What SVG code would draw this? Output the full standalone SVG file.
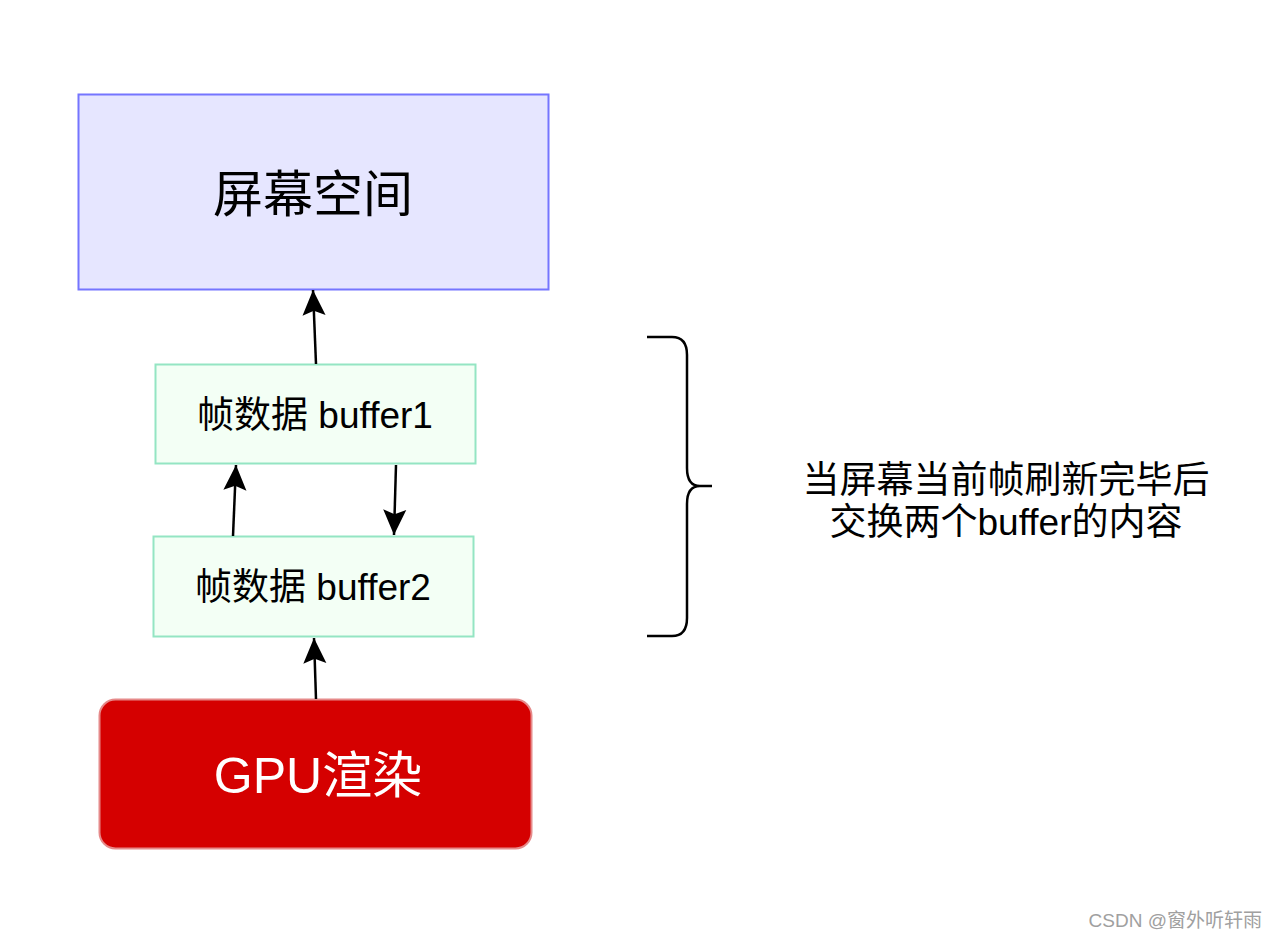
<svg xmlns="http://www.w3.org/2000/svg" width="1276" height="939" viewBox="0 0 1276 939">
  <style>
    .lbl { font-family: "Liberation Sans", "Noto Sans CJK SC", sans-serif; text-anchor: middle; fill: #000000; }
    .buf { fill: #f3fff5; stroke: #94e5c3; stroke-width: 2; }
    .conn { stroke: #000000; stroke-width: 2.5; fill: none; }
  </style>
  <defs>
    <marker id="arrow" markerUnits="userSpaceOnUse" markerWidth="30" markerHeight="30" viewBox="-24 -12 26 24" refX="0" refY="0" orient="auto">
      <path d="M0,0 L-22,-10 L-18,0 L-22,10 Z" fill="#000000"/>
    </marker>
  </defs>
  <rect width="1276" height="939" fill="#ffffff"/>

  <g id="screen">
    <rect x="78.5" y="94.5" width="470" height="195" fill="#e6e6ff" stroke="#7575ff" stroke-width="2"/>
    <text class="lbl" x="313" y="212" font-size="50">屏幕空间</text>
  </g>

  <g id="buffer1">
    <rect class="buf" x="155.5" y="364.5" width="320" height="99"/>
    <text class="lbl" x="315" y="428" font-size="37">帧数据 buffer1</text>
  </g>

  <g id="buffer2">
    <rect class="buf" x="153.5" y="536.5" width="320" height="100"/>
    <text class="lbl" x="313" y="600" font-size="37">帧数据 buffer2</text>
  </g>

  <g id="gpu">
    <rect x="99.5" y="699.5" width="432" height="149" rx="16" ry="16" fill="#d50000" stroke="#e68a8a" stroke-width="2"/>
    <text class="lbl" x="318" y="793" font-size="50" style="fill:#ffffff">GPU渲染</text>
  </g>

  <g id="connectors">
    <line class="conn" x1="316" y1="364" x2="313" y2="290" marker-end="url(#arrow)"/>
    <line class="conn" x1="233" y1="536" x2="236" y2="465" marker-end="url(#arrow)"/>
    <line class="conn" x1="396" y1="465" x2="394" y2="535" marker-end="url(#arrow)"/>
    <line class="conn" x1="316" y1="699" x2="314" y2="638" marker-end="url(#arrow)"/>
  </g>

  <g id="brace">
    <path d="M647,337 L672,337 Q687,337 687,355 L687,468 Q687,486 700,486 L712,486 M700,486 Q687,486 687,504 L687,618 Q687,636 672,636 L647,636" fill="none" stroke="#000000" stroke-width="2.5"/>
  </g>

  <g id="note">
    <text class="lbl" x="1006" y="493" font-size="37">当屏幕当前帧刷新完毕后</text>
    <text class="lbl" x="1006" y="535" font-size="37">交换两个buffer的内容</text>
  </g>

  <text x="1262" y="927" font-family="Liberation Sans, Noto Sans CJK SC, sans-serif" font-size="19" fill="#a0a0a0" text-anchor="end">CSDN @窗外听轩雨</text>
</svg>
